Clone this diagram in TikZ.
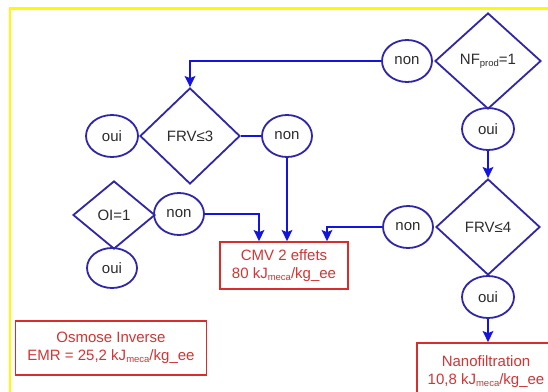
\documentclass[tikz,border=0pt]{standalone}
\usepackage{fontspec}
\setmainfont{Liberation Sans}
\usetikzlibrary{shapes.geometric,arrows.meta}

\definecolor{flowblue}{RGB}{20,20,225}
\definecolor{shapeblue}{RGB}{48,38,170}
\definecolor{boxred}{RGB}{215,45,45}
\definecolor{txtred}{RGB}{205,55,55}
\definecolor{txtgray}{RGB}{45,45,45}
\definecolor{framey}{RGB}{255,250,0}

\newcommand\smallsub[1]{\raisebox{-0.12em}{\fontsize{9.5}{9.5}\selectfont #1}}

\tikzset{
  every node/.style={font=\fontsize{15}{18}\selectfont, text=txtgray},
  test/.style={diamond, draw=shapeblue, line width=1.8pt, inner sep=0pt},
  answer/.style={ellipse, draw=shapeblue, line width=1.8pt, inner sep=0pt,
                 minimum width=50pt, minimum height=42pt},
  result/.style={rectangle, draw=boxred, line width=1.7pt, text=txtred,
                 align=center, inner sep=0pt},
  flow/.style={draw=flowblue, line width=2.6pt},
  flowarrow/.style={flow, -{Stealth[length=11pt,width=10.5pt,inset=2pt]}}
}

\begin{document}
\begin{tikzpicture}[x=1pt,y=-1pt]
  \useasboundingbox (0,0) rectangle (548,391);
  \clip (0,0) rectangle (548,391);
  \fill[white] (0,0) rectangle (548,391);
  % outer frame
  \draw[framey, line width=2.6pt] (10,8.5) rectangle (620,480);

  % right column
  \node[test, minimum width=106pt, minimum height=96pt] (nf) at (488,61) {NF\smallsub{prod}=1};
  \node[answer] (nfno) at (407,61) {non};
  \node[answer, minimum width=52pt] (nfyes) at (488,129) {oui};
  \node[test, minimum width=104pt, minimum height=96pt] (frvb) at (488,227) {FRV≤4};
  \node[answer] (frvbno) at (408,227) {non};
  \node[answer, minimum width=52pt] (frvbyes) at (488,297) {oui};
  \node[result, minimum width=138pt, minimum height=58pt] (nano) at (486,372)
    {Nanofiltration\\10,8 kJ\smallsub{meca}/kg\_ee};

  % left column
  \node[test, minimum width=100pt, minimum height=96pt] (frva) at (190,136) {FRV≤3};
  \node[answer, minimum width=52pt] (frvayes) at (112,136) {oui};
  \node[answer] (frvano) at (287,136) {non};
  \node[test, minimum width=82pt, minimum height=68pt] (oi) at (114,215) {OI=1};
  \node[answer] (oino) at (179,214) {non};
  \node[answer, minimum height=40pt] (oiyes) at (112,268) {oui};

  % results
  \node[result, minimum width=128pt, minimum height=47pt] (cmv) at (284,265.5)
    {CMV 2 effets\\80 kJ\smallsub{meca}/kg\_ee};
  \node[result, minimum width=191pt, minimum height=54pt] (ro) at (111,348)
    {Osmose Inverse\\EMR = 25,2 kJ\smallsub{meca}/kg\_ee};

  % connectors
  \draw[flowarrow] (nfno.west) -| (frva.north);
  \draw[flowarrow] (nfyes.south) -- (frvb.north);
  \draw[flowarrow] (frvbno.west) -| (cmv.north -| 327,0);
  \draw[flowarrow] (frvbyes.south) -- (nano.north -| frvbyes.south);
  \draw[flow] (frva.east) -- (frvano.west);
  \draw[flowarrow] (frvano.south) -- (cmv.north -| frvano.south);
  \draw[flowarrow] (oino.east) -| (cmv.north -| 259,0);
\end{tikzpicture}
\end{document}
